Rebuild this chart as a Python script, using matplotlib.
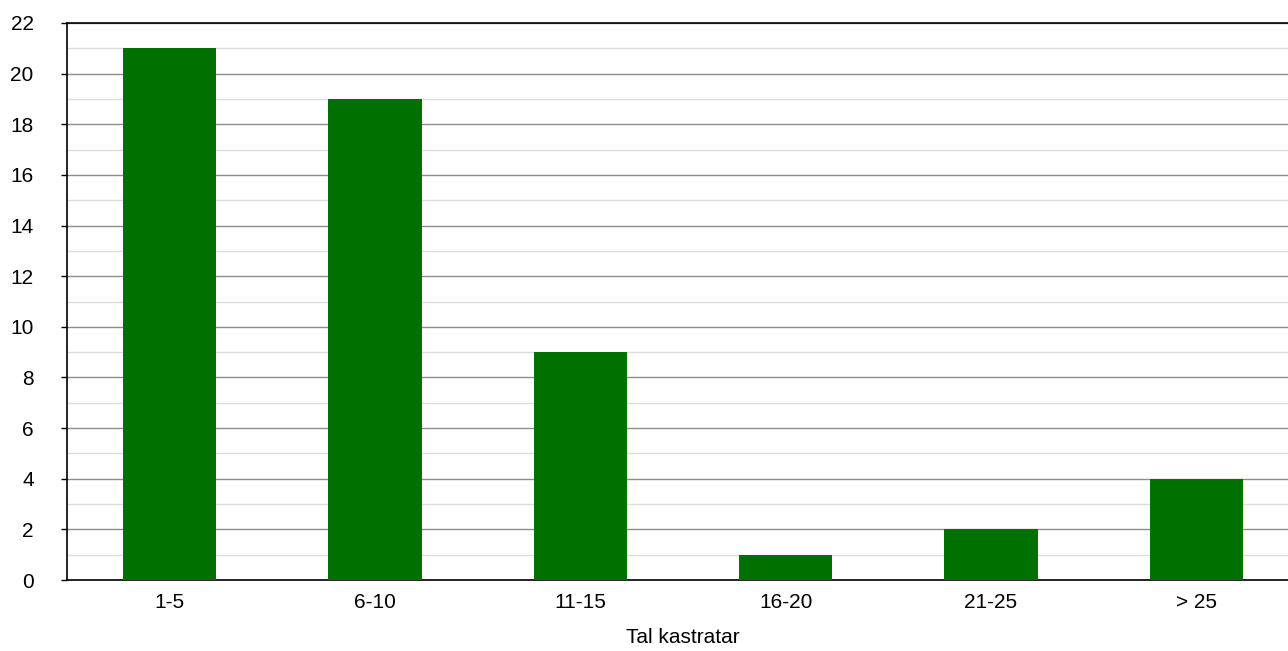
import matplotlib
matplotlib.use("Agg")
import matplotlib.pyplot as plt
from matplotlib.ticker import MultipleLocator

categories = ["1-5", "6-10", "11-15", "16-20", "21-25", "> 25"]
values = [21, 19, 9, 1, 2, 4]
xlabel = "Tal kastratar"

plt.rcParams['font.family'] = ['Liberation Sans', 'DejaVu Sans']

fig = plt.figure(figsize=(12.88, 6.51), dpi=100)
W, H = 1288, 651
left, right, top, bottom = 67, 1299, 23, 580
ax = fig.add_axes([left / W, 1 - bottom / H, (right - left) / W, (bottom - top) / H])

x = list(range(len(categories)))
ax.bar(x, values, width=0.455, color="#007000", zorder=3)
ax.set_xlim(-0.5, len(categories) - 0.5)
ax.set_ylim(0, 22)
ax.set_xticks(x)
ax.set_xticklabels(categories)
ax.yaxis.set_major_locator(MultipleLocator(2))
ax.yaxis.set_minor_locator(MultipleLocator(1))
ax.grid(axis="y", which="major", color="#8c8c8c", linewidth=1, zorder=0)
ax.grid(axis="y", which="minor", color="#dcdcdc", linewidth=1, zorder=0)
ax.tick_params(axis="y", which="major", length=4, width=1, labelsize=15, pad=20, color="black")
ax.tick_params(axis="y", which="minor", length=0)
ax.tick_params(axis="x", length=0, labelsize=15, pad=9)
for s in ["left", "bottom", "top"]:
    ax.spines[s].set_color("black")
    ax.spines[s].set_linewidth(1.2)
ax.spines["right"].set_visible(False)
ax.set_xlabel(xlabel, fontsize=15, labelpad=12)

fig.savefig("out.png", dpi=100)
